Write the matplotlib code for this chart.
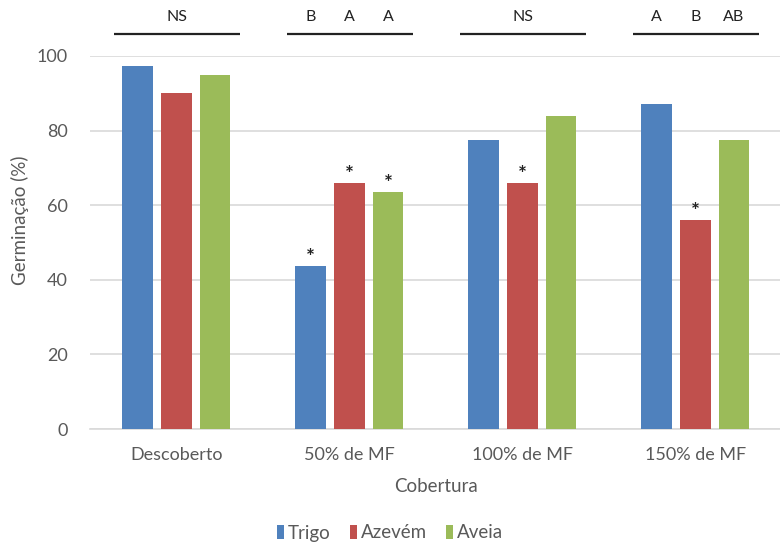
import matplotlib
matplotlib.use("Agg")
import matplotlib.pyplot as plt
import numpy as np

# Germination by soil cover and species
categories = ["Descoberto", "50% de MF", "100% de MF", "150% de MF"]
series_names = ["Trigo", "Azevém", "Aveia"]
trigo = [97.4, 43.6, 77.6, 87.1]
azevem = [90.0, 66.0, 66.0, 56.0]
aveia = [94.8, 63.5, 83.8, 77.4]
values = [trigo, azevem, aveia]
colors = ["#4F81BD", "#C0504D", "#9BBB59"]

# Significance marks: letters above each group, asterisks over bars
group_letters = [["NS"], ["B", "A", "A"], ["NS"], ["A", "B", "AB"]]
asterisks = [
    [False, False, False],
    [True, True, True],
    [False, True, False],
    [False, True, False],
]
y_ticks = [0, 20, 40, 60, 80, 100]

plt.rcParams["font.family"] = ["Lato", "DejaVu Sans"]
grey = "#595959"
dark = "#222222"

fig = plt.figure(figsize=(7.8, 5.44), dpi=100)
ax = fig.add_axes([90 / 780, 1 - 429 / 544, 692 / 780, (429 - 56) / 544])

x = np.arange(len(categories))
width = 0.178
offsets = [-0.224, 0.0, 0.222]

for vals, off, col, name in zip(values, offsets, colors, series_names):
    ax.bar(x + off, vals, width, color=col, label=name, zorder=3)

ax.set_xlim(-0.5, len(categories) - 0.5)
ax.set_ylim(0, 100)
ax.set_yticks(y_ticks)
ax.grid(axis="y", color="#D9D9D9", linewidth=1.2, zorder=0)
ax.set_axisbelow(True)
for s in ["top", "right", "left"]:
    ax.spines[s].set_visible(False)
ax.spines["bottom"].set_color("#D9D9D9")
ax.spines["bottom"].set_linewidth(1.2)
ax.tick_params(axis="both", length=0, colors=grey, labelsize=13)
ax.tick_params(axis="y", pad=16)
ax.tick_params(axis="x", pad=13)
ax.set_xticks(x)
ax.set_xticklabels(categories)

ax.set_ylabel("Germinação (%)", color=grey, fontsize=13.5)
ax.yaxis.set_label_coords(-0.088, 0.56)
ax.set_xlabel("Cobertura", color=grey, fontsize=13.5, labelpad=11)

# Asterisks over bars
for si, (vals, off) in enumerate(zip(values, offsets)):
    for gi, v in enumerate(vals):
        if asterisks[gi][si]:
            ax.text(gi + off, v + 2.2, "*", ha="center", va="center",
                    fontsize=15, color=dark, fontweight="bold", zorder=4)

# Group lines and letters above the plot
for gi, letters in enumerate(group_letters):
    ax.plot([gi - 0.36, gi + 0.365], [106, 106], color=dark,
            linewidth=1.6, clip_on=False, solid_capstyle="butt")
    if len(letters) == 1:
        ax.text(gi, 108.5, letters[0], ha="center", va="bottom",
                fontsize=11.5, color=dark, clip_on=False)
    else:
        for off, lt in zip(offsets, letters):
            ax.text(gi + off, 108.5, lt, ha="center", va="bottom",
                    fontsize=11.5, color=dark, clip_on=False)

leg = fig.legend(loc="center", bbox_to_anchor=(0.5, 1 - 533 / 544), ncol=3,
                 frameon=False, fontsize=13.5, handlelength=0.4,
                 handleheight=0.75, handletextpad=0.2, columnspacing=1.0)
for t in leg.get_texts():
    t.set_color(grey)

fig.savefig("out.png", dpi=100)
